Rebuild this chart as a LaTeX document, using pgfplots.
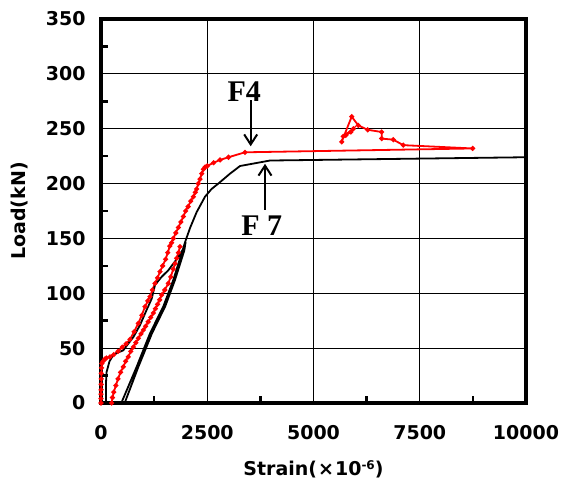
\documentclass[border=0pt]{standalone}
\usepackage{fontspec}
\setmainfont{DejaVu Sans}
\newfontfamily\tnr{Liberation Serif}
\usepackage{pgfplots}
\pgfplotsset{compat=1.18}
\usetikzlibrary{arrows.meta}
\begin{document}
\begin{tikzpicture}
\begin{axis}[name=ax, scale only axis, width=425pt, height=384pt,
  xmin=0, xmax=10000, ymin=0, ymax=350,
  xtick={0,2500,5000,7500,10000}, ytick={0,50,...,350},
  minor ytick={25,75,...,325},
  extra x ticks={1250,3750,6250,8750}, extra x tick labels={},
  extra x tick style={grid=none, major tick length=7pt, tick style={black, line width=2.5pt}},
  scaled ticks=false,
  grid=major, major grid style={black, line width=0.9pt},
  major tick length=0pt, minor tick length=7pt, tick align=inside,
  tick pos=left,
  minor tick style={black, line width=2.5pt},
  axis line style={line width=3.5pt},
  /pgf/number format/assume math mode=true,
  /pgf/number format/1000 sep={},
  tick label style={font=\bfseries\fontsize{19}{19}\selectfont},
  yticklabel style={xshift=-12pt},
  xticklabel style={yshift=-19pt},
  every axis x label/.style={at={(axis description cs:0.5,0)}, yshift=-66pt, anchor=center},
  every axis y label/.style={at={(axis description cs:0,0.5)}, xshift=-81pt, rotate=90, anchor=center},
  label style={font=\bfseries\fontsize{19}{19}\selectfont},
  xlabel={Strain(\hspace{1pt}×\hspace{1pt}10\raisebox{0.6ex}{\fontsize{12}{12}\selectfont -6})},
  ylabel={Load(kN)},
]
% F4 (red, with markers)
\addplot[red, line width=1.8pt, mark=*, mark size=1.5pt] coordinates {
(0,0) (0,4) (0,8) (2,12) (4,17) (6,22) (8,27) (12,32) (20,36) (47,38) (90,40) (125,41) (212,42) (300,44) (400,47) (500,51) (590,54) (682,58) (780,65) (878,72.6) (960,80) (1035,87.8) (1100,93) (1153,97) (1210,103) (1271,109) (1330,114) (1388,119.7) (1450,125) (1520,131) (1570,137) (1620,143) (1660,146) (1702,150) (1760,155) (1820,160) (1880,165) (1937,170) (1990,175) (2050,179) (2110,184) (2173,188) (2220,192) (2250,195) (2290,200) (2329,204) (2370,209) (2408,213) (2450,215) (2500,216) (2650,219) (2800,221.5) (3000,224) (3388,228.5) (8746,232) (7113,235) (6878,240) (6604,241) (6604,247) (6275,249) (6055,253) (5898,261) (5663,238) (5700,243) (5937,250) (5880,247) (5760,244)
};
\addplot[red, line width=1.8pt, mark=*, mark size=1.5pt] coordinates {
(250,0) (270,5) (300,10) (350,16) (400,22) (460,28) (525,33) (580,38) (640,42) (700,47) (761,51) (820,55) (880,59) (940,63) (996,66.5) (1050,70) (1110,74) (1170,78) (1231,82) (1280,86) (1330,90) (1380,94) (1427,98.5) (1500,103) (1584,109) (1640,115) (1700,122) (1740,127) (1780,132) (1820,137) (1859,142.5)
};
% F7 (black)
\addplot[black, line width=1.8pt] coordinates {
(120,0) (120,20) (130,28) (200,38) (290,43.8) (400,46) (525,48) (640,54) (761,60) (918,71) (1075,85) (1192,95) (1271,107.6) (1427,115) (1584,121) (1780,131) (1976,143) (1960,139) (1740,112) (1510,88) (1200,63.5) (880,33) (557,0) (478,0) (839,33) (1153,63.5) (1467,88) (1700,112) (1990,148) (2100,160) (2251,174) (2447,188) (2600,195) (2761,200) (3035,209) (3271,216) (3976,221) (10000,224)
};
\node[font=\tnr\bfseries\fontsize{30}{30}\selectfont] at (axis cs:3369,284.2) {F4};
\draw[line width=2pt, -{Straight Barb[length=10pt,width=13pt]}] (axis cs:3522,276) -- (axis cs:3522,234);
\node[font=\tnr\bfseries\fontsize{30}{30}\selectfont] at (axis cs:3781,161.6) {F 7};
\draw[line width=2pt, -{Straight Barb[length=10pt,width=13pt]}] (axis cs:3859,176) -- (axis cs:3859,218);
\end{axis}
\pgfresetboundingbox
\path ([xshift=-101pt,yshift=-85pt]ax.south west) rectangle ([xshift=35pt,yshift=19pt]ax.north east);
\end{tikzpicture}
\end{document}
